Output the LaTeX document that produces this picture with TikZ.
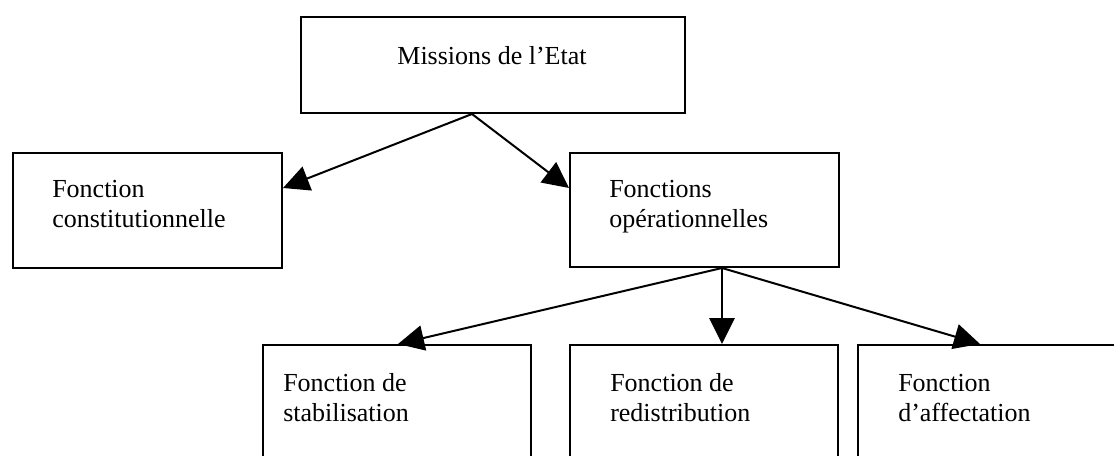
\documentclass[tikz,border=0pt]{standalone}
\usepackage{fontspec}
\setmainfont{Liberation Serif}
\usetikzlibrary{arrows.meta,calc}
\newcommand{\boxfont}{\fontsize{19.5}{22.5}\selectfont}
\begin{document}
\begin{tikzpicture}[x=0.75pt,y=-0.75pt,
  box/.style={draw, line width=1.5pt, rectangle, anchor=north west, inner sep=0pt},
  lbl/.style={anchor=base west, inner sep=0pt, font=\boxfont},
  arr/.style={-{Triangle[length=19.5pt,width=19pt]}, line width=1.5pt}]
\clip (0,0) rectangle (1114,456);
\fill[white] (0,0) rectangle (1114,456);
% boxes
\node[box, minimum width=288pt, minimum height=72pt] (m) at (300,16) {};
\node[box, minimum width=201.75pt, minimum height=86.25pt] (c) at (12,152) {};
\node[box, minimum width=201.75pt, minimum height=85.5pt] (o) at (569,152) {};
\node[box, minimum width=201pt, minimum height=150pt] (s) at (262,344) {};
\node[box, minimum width=201pt, minimum height=150pt] (r) at (569,344) {};
\node[box, minimum width=201pt, minimum height=150pt] (a) at (857,344) {};
% texts
\node[anchor=base, inner sep=0pt, font=\boxfont] (mt) at (492,65) {Missions de l’Etat};
\node[lbl] (ct) at (52,198) {\parbox[t]{180pt}{Fonction\\constitutionnelle}};
\node[lbl] (ot) at (609,198) {\parbox[t]{180pt}{Fonctions\\opérationnelles}};
\node[lbl] (st) at (283,391) {\parbox[t]{180pt}{Fonction de\\stabilisation}};
\node[lbl] (rt) at (610,391) {\parbox[t]{180pt}{Fonction de\\redistribution}};
\node[lbl] (at) at (898,391) {\parbox[t]{180pt}{Fonction\\d’affectation}};
% connectors
\draw[arr] ($(m.south west)+(172,0)$) -- ($(c.north east)+(0,36)$);
\draw[arr] ($(m.south west)+(172,0)$) -- ($(o.north west)+(0,36)$);
\draw[arr] ($(o.south west)+(153,0)$) -- ($(s.north west)+(136,0)$);
\draw[arr] ($(o.south west)+(153,0)$) -- ($(r.north west)+(153,0)$);
\draw[arr] ($(o.south west)+(153,0)$) -- ($(a.north west)+(123,0)$);
\end{tikzpicture}
\end{document}
